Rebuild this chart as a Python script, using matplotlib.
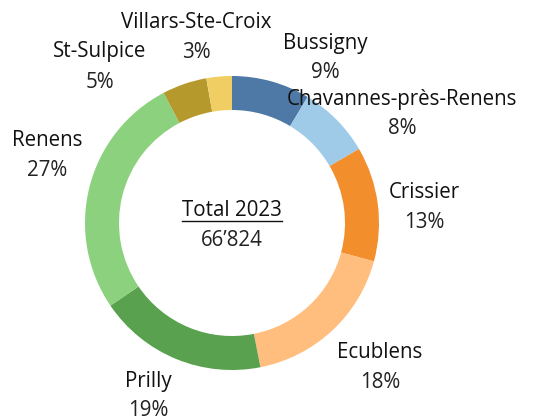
import matplotlib
matplotlib.use("Agg")
import matplotlib.pyplot as plt

# habitants par commune, total 2023
communes = ["Bussigny", "Chavannes-près-Renens", "Crissier", "Ecublens",
            "Prilly", "Renens", "St-Sulpice", "Villars-Ste-Croix"]
habitants = [5747, 5346, 8420, 11828, 12429, 17909, 3274, 1871]
couleurs = ["#4E79A7", "#A0CBE8", "#F28E2B", "#FFBE7D",
            "#59A14F", "#8CD17D", "#B6992D", "#F1CE63"]
annee = 2023

# position (pixels) du centre de chaque etiquette nom + pourcentage
pos_labels = [(325, 58), (402, 114), (424, 208), (380, 367),
              (148, 396), (47, 155), (100, 67), (196, 38)]

W, H = 559, 420
fig = plt.figure(figsize=(W / 100, H / 100), dpi=100)
ax = fig.add_axes([0, 0, 1, 1])

cx, cy = 232, H - 223  # centre du donut
R = 147
ax.pie(habitants, colors=couleurs, startangle=90, counterclock=False,
       center=(cx, cy), radius=R,
       wedgeprops=dict(width=34, linewidth=0))
ax.set_xlim(0, W)
ax.set_ylim(0, H)
ax.set_aspect("equal")
ax.axis("off")

police = "Open Sans"
taille = 14.8
total = sum(habitants)
for nom, val, (x, y) in zip(communes, habitants, pos_labels):
    pct = round(val / total * 100)
    ax.text(x, H - y + 15, nom, ha="center", va="center", fontsize=taille,
            family=police, color="#111111")
    ax.text(x, H - y - 15, f"{pct}%", ha="center", va="center", fontsize=taille,
            family=police, color="#222222")

# texte central, titre souligne
t = ax.text(cx, H - 211, f"Total {annee}", ha="center", va="center",
            fontsize=taille, family=police, color="#111111")
ax.text(cx, H - 241, f"{total:,}".replace(",", "\u2019"), ha="center",
        va="center", fontsize=taille, family=police, color="#222222")
fig.canvas.draw()
bb = t.get_window_extent().transformed(ax.transData.inverted())
ax.plot([bb.x0, bb.x1], [bb.y0 + 1, bb.y0 + 1], color="#111111", lw=1)

fig.savefig("out.png", dpi=100)
